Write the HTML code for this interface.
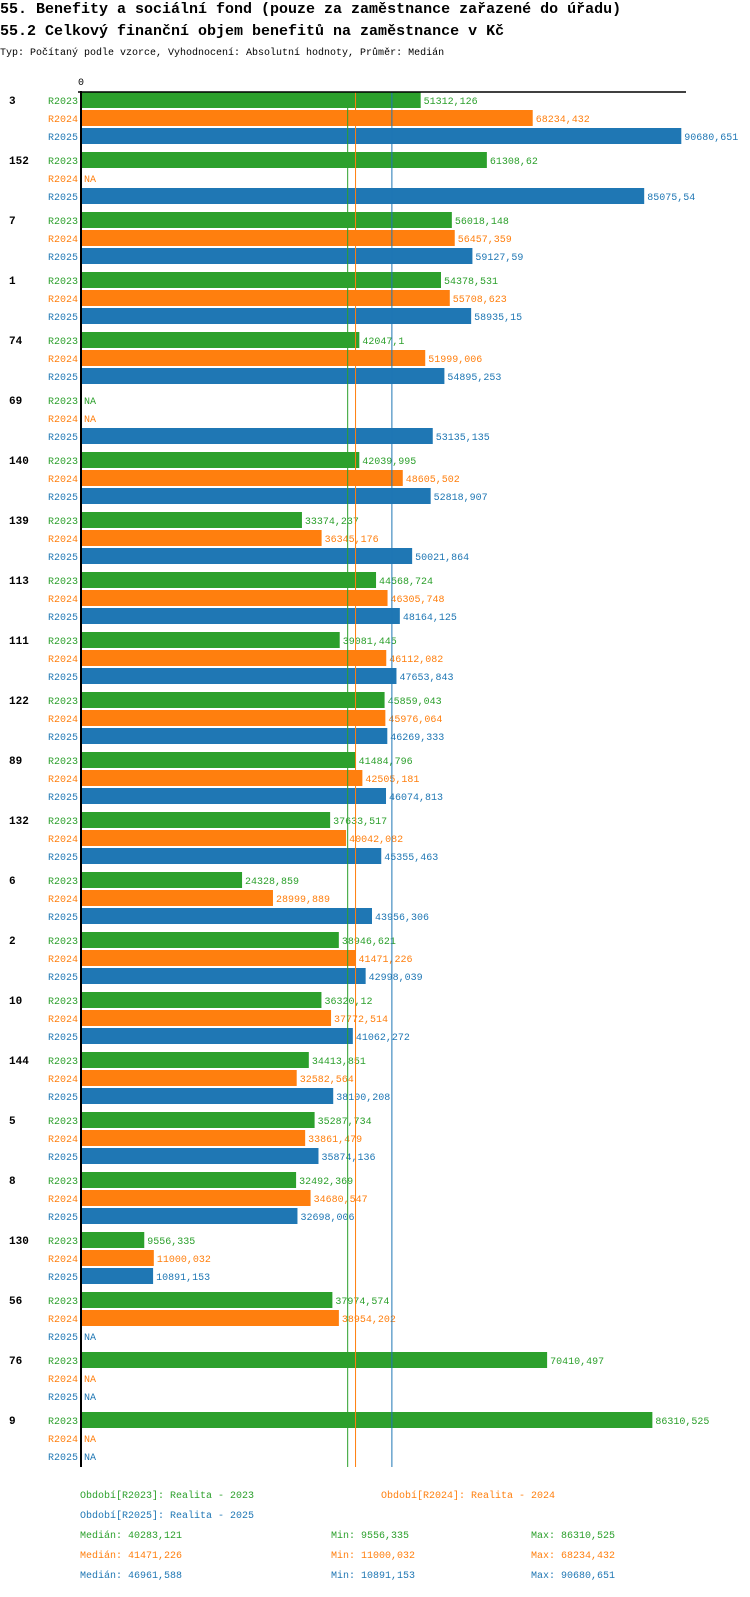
<!DOCTYPE html>
<html><head><meta charset="utf-8">
<style>
html,body{margin:0;padding:0;background:#fff;}
body{width:750px;height:1592px;overflow:hidden;font-family:"Liberation Mono",monospace;}
svg text{font-family:"Liberation Mono",monospace;}
</style></head>
<body>
<svg id="chart" width="750" height="1592" xmlns="http://www.w3.org/2000/svg">
<text x="0" y="13" font-size="15" font-weight="bold" fill="#000">55. Benefity a sociální fond (pouze za zaměstnance zařazené do úřadu)</text>
<text x="0" y="35" font-size="15" font-weight="bold" fill="#000">55.2 Celkový finanční objem benefitů na zaměstnance v Kč</text>
<text x="0" y="55" font-size="10" fill="#000">Typ: Počítaný podle vzorce, Vyhodnocení: Absolutní hodnoty, Průměr: Medián</text>
<text x="78" y="85" font-size="10" fill="#000">0</text>
<g id="marks"></g>
</svg>
<script>
const categories = ["3","152","7","1","74","69","140","139","113","111","122","89","132","6","2","10","144","5","8","130","56","76","9"];
const seriesNames = ["R2023","R2024","R2025"];
const values2023 = [51312.126,61308.62,56018.148,54378.531,42047.1,null,42039.995,33374.237,44568.724,39081.445,45859.043,41484.796,37633.517,24328.859,38946.621,36320.12,34413.851,35287.734,32492.369,9556.335,37974.574,70410.497,86310.525];
const values2024 = [68234.432,null,56457.359,55708.623,51999.006,null,48605.502,36345.176,46305.748,46112.082,45976.064,42505.181,40042.082,28999.889,41471.226,37772.514,32582.564,33861.479,34680.547,11000.032,38954.202,null,null];
const values2025 = [90680.651,85075.54,59127.59,58935.15,54895.253,53135.135,52818.907,50021.864,48164.125,47653.843,46269.333,46074.813,45355.463,43956.306,42998.039,41062.272,38100.208,35874.136,32698.006,10891.153,null,null,null];
const medians = [40283.121,41471.226,46961.588];
const mins = [9556.335,11000.032,10891.153];
const maxs = [86310.525,68234.432,90680.651];
const legendLabels = ["Období[R2023]: Realita - 2023","Období[R2024]: Realita - 2024","Období[R2025]: Realita - 2025"];

const colors = ["#2ca02c","#ff7f0e","#1f77b4"];
const X0 = 81, SCALE = 0.00662;
const x = v => X0 + v * SCALE;
const rowY = (g, r) => 92 + g * 60 + r * 18;
const fmt = v => String(v).replace('.', ',');
const NS = "http://www.w3.org/2000/svg";
const g0 = document.getElementById('marks');
function mk(tag, attrs, text) {
  const e = document.createElementNS(NS, tag);
  for (const k in attrs) e.setAttribute(k, attrs[k]);
  if (text !== undefined) e.textContent = text;
  g0.appendChild(e);
  return e;
}
const all = [values2023, values2024, values2025];
categories.forEach((c, gi) => {
  const gl = mk('text', {x: 9, y: rowY(gi,0) + 12, 'font-size': 11, 'font-weight': 'bold', fill: '#000'}, c);
  
  
  for (let r = 0; r < 3; r++) {
    const y = rowY(gi, r);
    const lbl = mk('text', {x: 78, y: y + 12, 'font-size': 10, fill: colors[r], 'text-anchor': 'end'}, seriesNames[r]);
    
    
    const v = all[r][gi];
    if (v === null) {
      const na = mk('text', {x: 84, y: y + 12, 'font-size': 10, fill: colors[r]}, 'NA');
      
      
    } else {
      const b = mk('rect', {x: X0 + 1, y: y, width: x(v) - X0 - 1, height: 16, fill: colors[r]});
      
      
      const t = mk('text', {x: x(v) + 3, y: y + 12, 'font-size': 10, fill: colors[r]}, fmt(v));
      
      
    }
  }
});
const yEnd = rowY(categories.length - 1, 2) + 19;
medians.forEach((m, i) => {
  const l = mk('line', {x1: x(m), x2: x(m), y1: 92, y2: yEnd, stroke: colors[i], 'stroke-width': 1});
  
  
});
const ax = mk('line', {x1: 81, x2: 81, y1: 91, y2: yEnd, stroke: '#000', 'stroke-width': 2});


const tx = mk('line', {x1: 78, x2: 686, y1: 92, y2: 92, stroke: '#000', 'stroke-width': 1.5});


// legend
const legPos = [[80,1498],[381,1498],[80,1518]];
legendLabels.forEach((s, i) => {
  const t = mk('text', {x: legPos[i][0], y: legPos[i][1], 'font-size': 10, fill: colors[i]}, s);
  
  
});
for (let i = 0; i < 3; i++) {
  const y = 1538 + i * 20;
  const a = mk('text', {x: 80, y: y, 'font-size': 10, fill: colors[i]}, 'Medián: ' + fmt(medians[i]));
  
  
  const b = mk('text', {x: 331, y: y, 'font-size': 10, fill: colors[i]}, 'Min: ' + fmt(mins[i]));
  
  
  const c = mk('text', {x: 531, y: y, 'font-size': 10, fill: colors[i]}, 'Max: ' + fmt(maxs[i]));
  
  
}
</script>
</body></html>
